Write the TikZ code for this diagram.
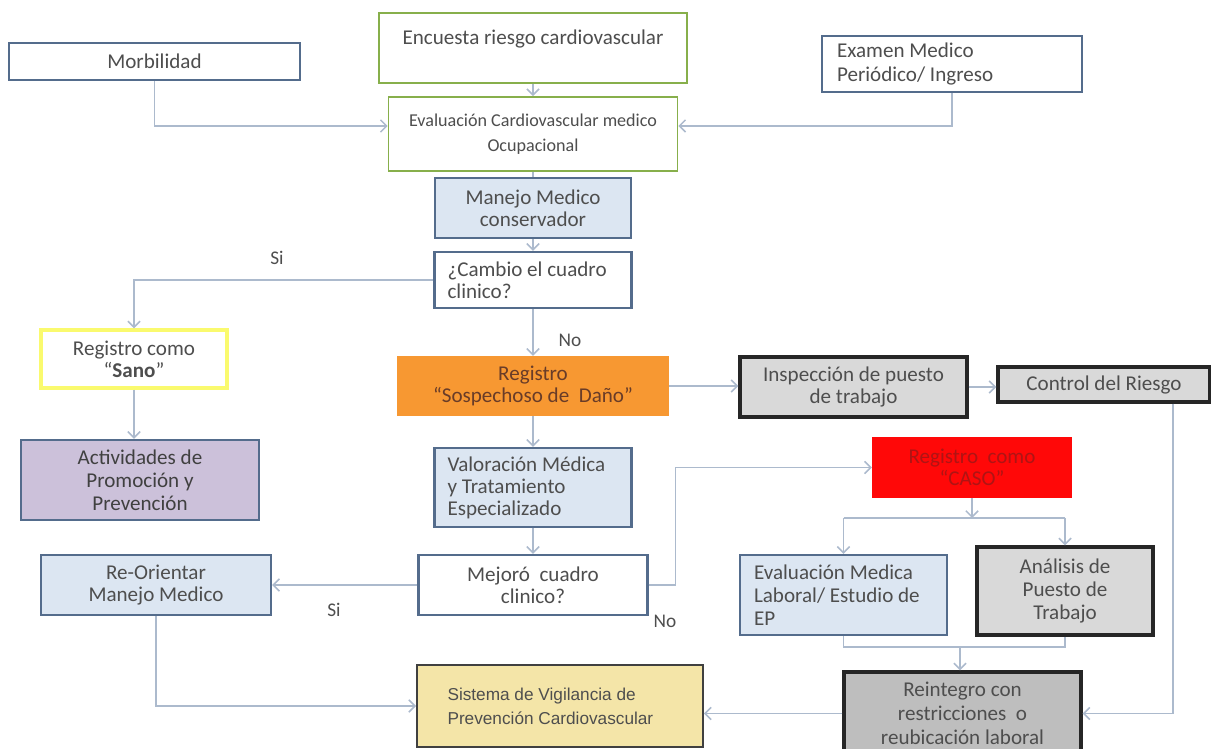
\documentclass[tikz,border=0pt]{standalone}
\usepackage{fontspec}
\setmainfont{Carlito}
\newfontfamily\arialfont{Liberation Sans}
\usetikzlibrary{arrows.meta}

\definecolor{bordeazul}{RGB}{84,108,140}
\definecolor{azulclaro}{RGB}{220,230,242}
\definecolor{verdeborde}{RGB}{135,175,75}
\definecolor{amarilloborde}{RGB}{250,250,110}
\definecolor{naranja}{RGB}{247,152,50}
\definecolor{rojocaso}{RGB}{255,8,8}
\definecolor{lila}{RGB}{204,193,218}
\definecolor{grisclaro}{RGB}{217,217,217}
\definecolor{grismedio}{RGB}{190,190,190}
\definecolor{arena}{RGB}{244,229,168}
\definecolor{lineagris}{RGB}{172,186,205}
\definecolor{textogris}{RGB}{78,78,78}

\tikzset{
  caja/.style={draw=bordeazul, line width=1.3pt, fill=white, text=textogris,
    font=\fontsize{12}{12.5}\selectfont, align=center, inner sep=0pt},
  cajaazul/.style={caja, fill=azulclaro},
  cajaverde/.style={caja, draw=verdeborde, line width=0.9pt},
  cajanegra/.style={caja, draw=black!85, line width=1.8pt, fill=grisclaro},
  flecha/.style={draw=lineagris, line width=0.9pt, -{Straight Barb[length=3.5pt,width=7pt]}},
  linea/.style={draw=lineagris, line width=0.9pt},
  etiqueta/.style={text=textogris, font=\fontsize{11}{12.5}\selectfont}
}

\begin{document}
\begin{tikzpicture}[x=0.02cm, y=-0.02cm]
\useasboundingbox (0,0) rectangle (1211,749);

\node[caja, minimum width=5.82cm, minimum height=0.74cm] (morb) at (154.5,61.5) {Morbilidad};
\node[cajaverde, minimum width=6.16cm, minimum height=1.40cm] (encuesta) at (533,48) {Encuesta riesgo cardiovascular\\\mbox{}};
\node[caja, align=flush left, text width=4.6cm, inner xsep=0.3cm, minimum height=1.12cm,
  font=\fontsize{12}{13.6}\selectfont] (examen) at (952,64) {Examen Medico\\Periódico/ Ingreso};
\node[cajaverde, minimum width=5.78cm, minimum height=1.48cm,
  font=\fontsize{10.3}{14}\selectfont] (evalcv) at (533,134) {Evaluación Cardiovascular medico\\Ocupacional};
\node[cajaazul, minimum width=3.92cm, minimum height=1.20cm] (manejo) at (533,208) {Manejo Medico\\conservador};
\node[caja, align=flush left, text width=3.42cm, inner xsep=0.26cm, minimum height=1.12cm] (cambio) at (533,280) {¿Cambio el cuadro\\clinico?};
\node[caja, draw=amarilloborde, line width=1.8pt, minimum width=3.72cm, minimum height=1.16cm] (sano) at (134,359) {Registro como\\“\textbf{Sano}”};
\node[caja, draw=naranja, fill=naranja, text={rgb,255:red,105;green,60;blue,40}, minimum width=5.40cm, minimum height=1.16cm] (sospechoso) at (533,386) {Registro\\“Sospechoso de~ Daño”};
\node[cajanegra, minimum width=4.54cm, minimum height=1.20cm] (inspeccion) at (853.5,387) {Inspección de puesto\\de trabajo};
\node[cajanegra, minimum width=4.24cm, minimum height=0.70cm] (control) at (1104,384.5) {Control del Riesgo};
\node[caja, fill=lila, text=black!75, minimum width=4.76cm, minimum height=1.60cm,
  font=\fontsize{12}{13}\selectfont] (actividades) at (140,480) {Actividades de\\Promoción y\\Prevención};
\node[cajaazul, align=flush left, text width=3.42cm, inner xsep=0.26cm, minimum height=1.58cm] (valoracion) at (533,487.5) {Valoración Médica\\y Tratamiento\\Especializado};
\node[caja, draw=rojocaso, fill=rojocaso, text={rgb,255:red,175;green,20;blue,20}, minimum width=3.96cm, minimum height=1.18cm] (caso) at (972,467.5) {Registro~ como\\“CASO”};
\node[cajaazul, minimum width=4.60cm, minimum height=1.20cm] (reorientar) at (156,585) {Re-Orientar\\Manejo Medico};
\node[caja, minimum width=4.58cm, minimum height=1.20cm] (mejoro) at (533,585) {Mejoró~ cuadro\\clinico?};
\node[cajaazul, align=flush left, text width=3.58cm, inner xsep=0.28cm, minimum height=1.60cm,
  font=\fontsize{12}{13}\selectfont] (evalmed) at (843.5,595) {Evaluación Medica\\Laboral/ Estudio de\\EP};
\node[cajanegra, minimum width=3.52cm, minimum height=1.76cm,
  font=\fontsize{12}{13}\selectfont] (analisis) at (1065,591) {Análisis de\\Puesto de\\Trabajo};
\node[caja, draw=black!75, line width=1pt, fill=arena, align=flush left, text width=4.5cm, inner xsep=0.61cm,
  minimum height=1.64cm, font=\arialfont\fontsize{9.8}{13.6}\selectfont] (sistema) at (560,706) {Sistema de Vigilancia de\\Prevención Cardiovascular};
\node[cajanegra, fill=grismedio, minimum width=4.74cm, minimum height=1.66cm,
  font=\fontsize{12}{13.5}\selectfont] (reintegro) at (962.5,713.5) {Reintegro con\\restricciones~ o\\reubicación laboral};

\node[etiqueta] (si1) at (277,258) {Si};
\node[etiqueta] (no1) at (570,340) {No};
\node[etiqueta] (si2) at (334,610) {Si};
\node[etiqueta] (no2) at (665,621) {No};

\coordinate (split) at (972,518);
\coordinate (merge) at (960,647);

\draw[flecha] (morb.south) |- ([yshift=0.16cm]evalcv.west);
\draw[flecha] (examen.south) |- ([yshift=0.16cm]evalcv.east);
\draw[flecha] (encuesta) -- (evalcv);
\draw[linea] (evalcv) -- (manejo);
\draw[flecha] (manejo) -- (cambio);
\draw[flecha] (cambio.west) -| (sano.north);
\draw[flecha] (cambio) -- (sospechoso);
\draw[flecha] (sano.south) -- (sano.south |- actividades.north);
\draw[flecha] (sospechoso.east) -- (sospechoso.east -| inspeccion.west);
\draw[flecha] (inspeccion.east) -- (inspeccion.east -| control.west);
\draw[flecha] (sospechoso) -- (valoracion);
\draw[flecha] (valoracion) -- (mejoro);
\draw[flecha] (mejoro.west) -- (reorientar.east);
\draw[flecha] (mejoro.east) -- ++(27,0) |- (caso.west);
\draw[flecha] (reorientar.south) |- (sistema.west);
\draw[flecha] (caso.south) -- (split);
\draw[linea] (split -| evalmed) -- (split -| analisis);
\draw[flecha] (split -| evalmed) -- (evalmed.north);
\draw[flecha] (split -| analisis) -- (analisis.north);
\draw[linea] (evalmed.south) |- (merge -| analisis) -- (analisis.south);
\draw[flecha] (merge) -- (merge |- reintegro.north);
\draw[flecha] ([xshift=1.38cm]control.south) |- (reintegro.east);
\draw[flecha] (reintegro.west) -- (reintegro.west -| sistema.east);
\end{tikzpicture}
\end{document}
